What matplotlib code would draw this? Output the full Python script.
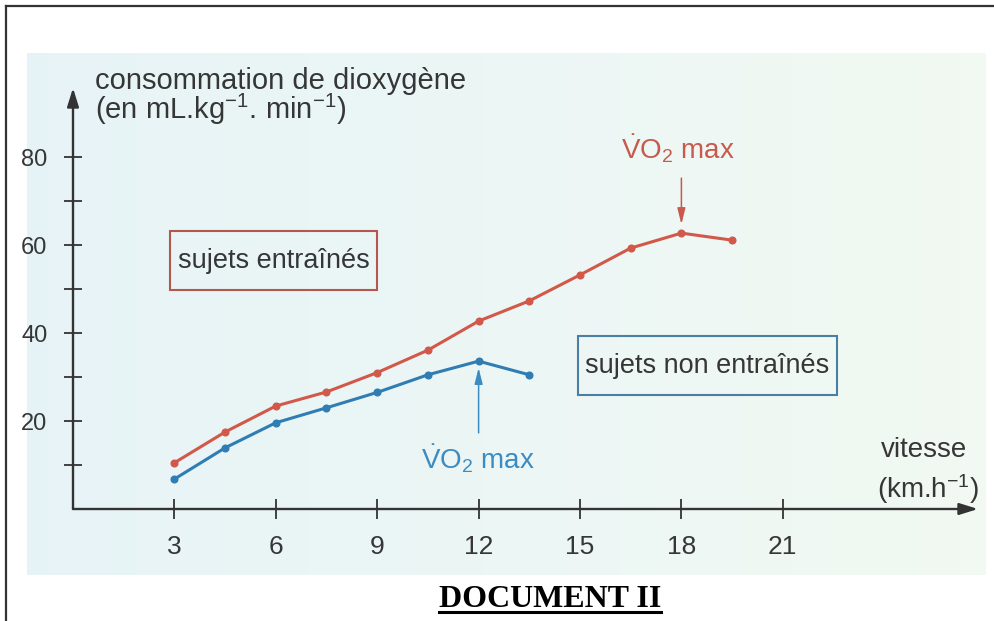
import numpy as np
import matplotlib
matplotlib.use("Agg")
import matplotlib.pyplot as plt
from matplotlib.lines import Line2D
from matplotlib.patches import Rectangle

# ---------------- data ----------------
speed_trained = [3, 4.5, 6, 7.5, 9, 10.5, 12, 13.5, 15, 16.5, 18, 19.5]
vo2_trained = [10.5, 17.5, 23.4, 26.6, 31.0, 36.1, 42.7, 47.3, 53.2, 59.3, 62.7, 61.1]
speed_untrained = [3, 4.5, 6, 7.5, 9, 10.5, 12, 13.5]
vo2_untrained = [6.8, 13.9, 19.6, 23.0, 26.5, 30.5, 33.6, 30.5]
x_ticks = [3, 6, 9, 12, 15, 18, 21]
y_ticks = [20, 40, 60, 80]
y_minor = [10, 30, 50, 70]
label_trained = "sujets entraînés"
label_untrained = "sujets non entraînés"
vmax_trained = (18, 62.7)
vmax_untrained = (12, 33.6)

# ---------------- fonts ----------------
SANS = "Liberation Sans"
plt.rcParams["font.family"] = [SANS, "DejaVu Sans"]
plt.rcParams["mathtext.fontset"] = "custom"
plt.rcParams["mathtext.rm"] = SANS
plt.rcParams["mathtext.it"] = SANS
plt.rcParams["mathtext.bf"] = SANS
plt.rcParams["mathtext.default"] = "regular"

W, H = 995, 621
fig = plt.figure(figsize=(W / 100, H / 100), dpi=100)
fig.patch.set_facecolor("white")

def fx(px):
    return px / W
def fy(py):
    return 1 - py / H

# background panel (gradient light blue -> light green)
bg = fig.add_axes([fx(27), fy(575), fx(986) - fx(27), fy(53) - fy(575)], zorder=0)
c1 = np.array([0.905, 0.955, 0.968])
c2 = np.array([0.948, 0.977, 0.95])
t = np.linspace(0, 1, 256)[None, :, None]
grad = c1 * (1 - t) + c2 * t
bg.imshow(grad, aspect="auto", extent=[0, 1, 0, 1])
bg.set_axis_off()

# page borders
fig.add_artist(Line2D([fx(6), fx(6)], [fy(6), 0], transform=fig.transFigure, color="#333333", lw=1.6))
fig.add_artist(Line2D([fx(6), 1], [fy(6), fy(6)], transform=fig.transFigure, color="#333333", lw=1.6))

# main axes: x=0 at px 73, 33.8 px/unit ; y=0 at px 509, 4.4 px/unit
x0, xpu = 73, 33.8
y0, ypu = 509, 4.4
xr, yt = 978, 88
ax = fig.add_axes([fx(x0), fy(y0), fx(xr) - fx(x0), fy(yt) - fy(y0)], zorder=2)
ax.set_facecolor("none")
ax.set_xlim(0, (xr - x0) / xpu)
ax.set_ylim(0, (y0 - yt) / ypu)
for s in ax.spines.values():
    s.set_visible(False)

axis_c = "#333333"
txt_c = "#363636"
ax.annotate("", xy=(1, 0), xytext=(0, 0), xycoords="axes fraction",
            arrowprops=dict(arrowstyle="-|>,head_length=0.8,head_width=0.25", mutation_scale=14,
                            color=axis_c, lw=1.7, shrinkA=0, shrinkB=0), annotation_clip=False)
ax.annotate("", xy=(0, 1), xytext=(0, 0), xycoords="axes fraction",
            arrowprops=dict(arrowstyle="-|>,head_length=0.8,head_width=0.25", mutation_scale=14,
                            color=axis_c, lw=1.7, shrinkA=0, shrinkB=0), annotation_clip=False)

ax.set_xticks(x_ticks)
ax.set_xticklabels([str(v) for v in x_ticks])
ax.set_yticks(y_ticks)
ax.set_yticklabels([str(v) for v in y_ticks])
ax.set_yticks(y_minor, minor=True)
ax.tick_params(axis="x", which="major", direction="inout", length=15, width=1.3, color=axis_c,
               labelsize=19, labelcolor=txt_c, pad=11)
ax.tick_params(axis="y", which="both", direction="inout", length=13, width=1.3, color=axis_c,
               labelsize=17, labelcolor=txt_c, pad=12)

red = "#d2584a"
blue = "#2f7db3"
ax.plot(speed_trained, vo2_trained, color=red, lw=2.2, marker="o", ms=4.8, zorder=5, clip_on=False)
ax.plot(speed_untrained, vo2_untrained, color=blue, lw=2.2, marker="o", ms=4.8, zorder=5, clip_on=False)

# boxes with labels
ax.add_patch(Rectangle((2.87, 49.8), 8.99 - 2.87, 63.2 - 49.8, fill=False, ec="#b4574c", lw=1.5, zorder=4))
ax.text(5.93, 56.3, label_trained, ha="center", va="center", fontsize=19.5, color=txt_c)
ax.add_patch(Rectangle((14.94, 25.9), 22.60 - 14.94, 39.3 - 25.9, fill=False, ec="#4a7ea3", lw=1.5, zorder=4))
ax.text(18.77, 32.4, label_untrained, ha="center", va="center", fontsize=19.5, color=txt_c)

# VO2 max annotations
vtxt = r"$\dot{V}O_2$ max"
red_t = "#c75a4c"
blue_t = "#3a8cc2"
ax.annotate("", xy=(vmax_trained[0], vmax_trained[1] + 2.0), xytext=(vmax_trained[0], 75.2),
            arrowprops=dict(arrowstyle="-|>,head_length=0.8,head_width=0.2", mutation_scale=12,
                            color=red_t, lw=1.1, shrinkA=0, shrinkB=0))
ax.text(17.9, 79.6, vtxt, ha="center", va="baseline", fontsize=20, color=red_t)
ax.annotate("", xy=(vmax_untrained[0], vmax_untrained[1] - 1.5), xytext=(vmax_untrained[0], 17.3),
            arrowprops=dict(arrowstyle="-|>,head_length=0.8,head_width=0.2", mutation_scale=12,
                            color=blue_t, lw=1.1, shrinkA=0, shrinkB=0))
ax.text(11.97, 9.3, vtxt, ha="center", va="baseline", fontsize=20, color=blue_t)

# axis titles
ax.text(0.65, 95.4, "consommation de dioxygène", ha="left", va="baseline", fontsize=21,
        color=txt_c, clip_on=False)
ax.text(0.65, 88.6, r"(en mL.kg$^{-1}$. min$^{-1}$)", ha="left", va="baseline", fontsize=21,
        color=txt_c, clip_on=False)
ax.text(23.9, 11.8, "vitesse", ha="left", va="baseline", fontsize=20, color=txt_c, clip_on=False)
ax.text(23.8, 2.5, r"(km.h$^{-1}$)", ha="left", va="baseline", fontsize=20, color=txt_c, clip_on=False)

# document title with underline
doc = fig.text(fx(550), fy(607), "DOCUMENT II", ha="center", va="baseline", fontsize=23,
               fontweight="bold", family=["Liberation Serif", "DejaVu Serif"], color="black")
fig.canvas.draw()
bb = doc.get_window_extent()
fig.add_artist(Line2D([bb.x0 / W, bb.x1 / W], [fy(612), fy(612)], transform=fig.transFigure,
                      color="black", lw=2.2))

fig.savefig("out.png", dpi=100, facecolor="white")
